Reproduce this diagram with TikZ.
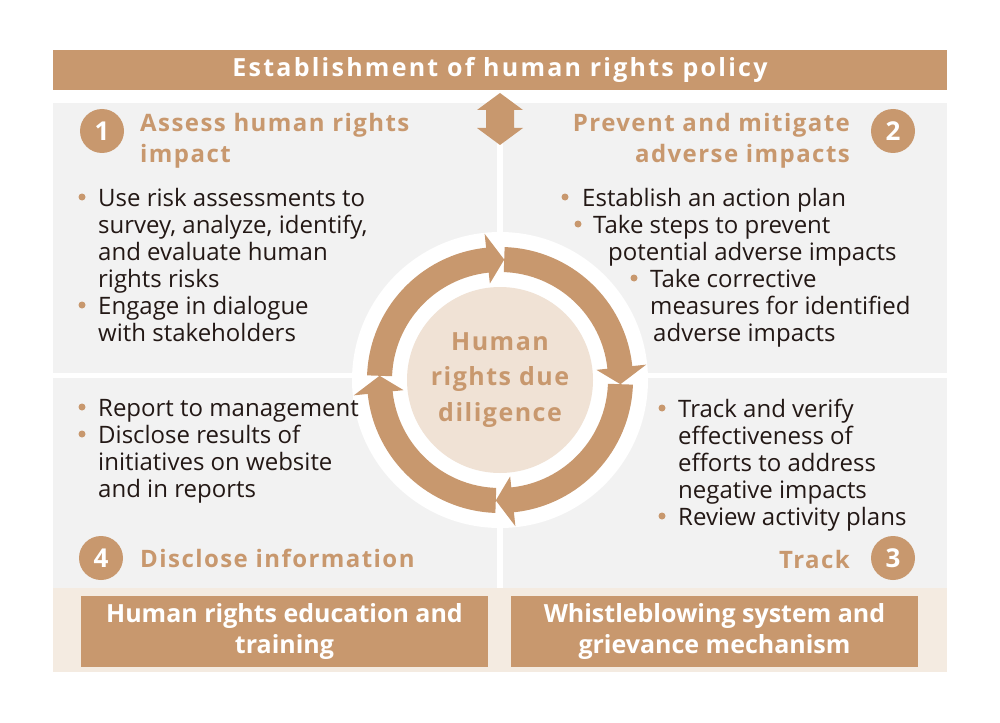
\documentclass[tikz,border=0pt]{standalone}
\usepackage{fontspec}
\setmainfont{Open Sans}
\newfontfamily\widefont[LetterSpace=6]{Open Sans}
\newfontfamily\widerfont[LetterSpace=9]{Open Sans}
\usetikzlibrary{positioning}

\definecolor{hrtan}{HTML}{C8986E}
\definecolor{hrgray}{HTML}{F2F2F2}
\definecolor{hrband}{HTML}{F4EBE1}
\definecolor{hrbeige}{HTML}{F0E2D5}
\definecolor{hrtext}{HTML}{231815}

\begin{document}
\begin{tikzpicture}[
    x=1pt, y=-1pt,
    % Style for the tan bars with white text
    bar/.style={
        rectangle,
        fill=hrtan,
        text=white,
        inner sep=0pt,
        align=center
    },
    % Style for the four step headings (anchored on the last line)
    heading/.style={
        inner sep=0pt,
        text=hrtan,
        align=left,
        font=\widefont\bfseries\fontsize{24}{31}\selectfont
    },
    % Style for the bullet texts (anchored on the last line)
    body/.style={
        inner sep=0pt,
        text=hrtext,
        align=left,
        font=\fontsize{24}{27}\selectfont
    },
    % Style for the numbered circles
    numcirc/.style={
        circle,
        fill=hrtan,
        text=white,
        minimum size=44pt,
        inner sep=0pt,
        font=\bfseries\fontsize{26}{26}\selectfont
    },
    % Style for the bullet dots
    dot/.style={
        circle,
        fill=hrtan,
        minimum size=7pt,
        inner sep=0pt
    }
]

\useasboundingbox (0,0) rectangle (1000,722);
\fill[white] (0,0) rectangle (1000,722);

% 1. Background panels
\fill[hrgray] (53,103) rectangle (497,373);
\fill[hrgray] (503,103) rectangle (947,373);
\fill[hrgray] (53,378) rectangle (497,588);
\fill[hrgray] (503,378) rectangle (947,588);
\fill[hrband] (53,588) rectangle (947,672);

% 2. Policy bar and the double arrow below it
\node[bar, minimum width=894pt, minimum height=40pt,
      font=\widerfont\bfseries\fontsize{25}{25}\selectfont] (policy) at (500,70)
    {Establishment of human rights policy};
\fill[hrtan] (500,93) -- (523,110) -- (514,110) -- (514,128) -- (523,128)
    -- (500,145) -- (477,128) -- (486,128) -- (486,110) -- (477,110) -- cycle;

% 3. The cycle in the middle
\begin{scope}[shift={(500,380)}]
    \fill[white] (0,0) circle[radius=148pt];
    \foreach \s in {178,88,-2,-92} {
        \fill[hrtan] (\s:133pt) arc[start angle=\s, end angle=\s-82, radius=133pt]
            -- (\s-82:147pt) -- (\s-90:120.5pt) -- (\s-82:97pt) -- (\s-82:108pt)
            arc[start angle=\s-82, end angle=\s, radius=108pt] -- cycle;
    }
\end{scope}
\node[circle, fill=hrbeige, minimum size=186pt, inner sep=0pt, text=hrtan,
      align=center, font=\widefont\bfseries\fontsize{25}{35.5}\selectfont] (hrdd) at (500,380)
    {Human\\rights due\\diligence};

% 4. Numbered circles and headings
\node[numcirc] (n1) at (102,131) {1};
\node[numcirc] (n2) at (893,131) {2};
\node[numcirc] (n3) at (893,558) {3};
\node[numcirc] (n4) at (101,558) {4};

\node[heading, anchor=base west] (assess) at (140,163) {Assess human rights\\impact};
\node[heading, anchor=base east, align=right] (prevent) at (850,163) {Prevent and mitigate\\adverse impacts};
\node[heading, anchor=base east] (track) at (850,568) {Track};
\node[heading, anchor=base west] (disclose) at (140,567) {Disclose information};

% 5. Bullet texts
\node[dot] (d1a) at (82,197) {};
\node[body, anchor=base west] (assess_a) at (98,287)
    {Use risk assessments to\\survey, analyze, identify,\\and evaluate human\\rights risks};
\node[dot] (d1b) at (82,305) {};
\node[body, anchor=base west] (assess_b) at (98,341) {Engage in dialogue\\with stakeholders};

\node[dot] (d2a) at (565,197) {};
\node[body, anchor=base west] (prevent_a) at (582,206) {Establish an action plan};
\node[dot] (d2b) at (578,224) {};
\node[body, anchor=base west] (prevent_b) at (593,260)
    {Take steps to prevent\\\hspace*{15pt}potential adverse impacts};
\node[dot] (d2c) at (634,278) {};
\node[body, anchor=base west] (prevent_c) at (650,341)
    {Take corrective\\measures for identified\\\hspace*{3pt}adverse impacts};

\node[dot] (d3a) at (662,408) {};
\node[body, anchor=base west] (track_a) at (678,498)
    {Track and verify\\effectiveness of\\efforts to address\\negative impacts};
\node[dot] (d3b) at (662,516) {};
\node[body, anchor=base west] (track_b) at (678,525) {Review activity plans};

\node[dot] (d4a) at (82,407) {};
\node[body, anchor=base west] (disclose_a) at (98,416) {Report to management};
\node[dot] (d4b) at (82,434) {};
\node[body, anchor=base west] (disclose_b) at (98,497)
    {Disclose results of\\initiatives on website\\and in reports};

% 6. Boxes at the bottom
\node[bar, minimum width=407pt, minimum height=71pt,
      font=\bfseries\fontsize{25}{31}\selectfont] (education) at (284.5,631.5)
    {Human rights education and\\training};
\node[bar, minimum width=407pt, minimum height=71pt,
      font=\bfseries\fontsize{25}{31}\selectfont] (grievance) at (714.5,631.5)
    {Whistleblowing system and\\grievance mechanism};

\end{tikzpicture}
\end{document}
